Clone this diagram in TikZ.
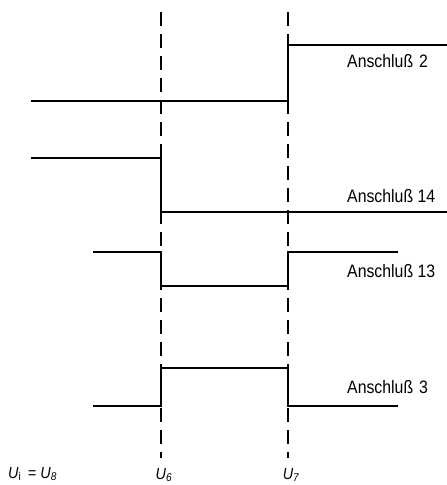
\documentclass[tikz,border=0pt]{standalone}
\usepackage{fontspec}
\setmainfont{Liberation Sans}
\newfontfamily\dinfont[FakeStretch=0.88]{Liberation Sans}
\newfontfamily\dinitalic[FakeStretch=0.9]{Liberation Sans Italic}
\begin{document}
\begin{tikzpicture}[x=1pt,y=-1pt,
  signal/.style={line width=2.6pt,line join=miter},
  guide/.style={line width=2.4pt,dash pattern=on 14pt off 8pt},
  pinlabel/.style={anchor=base west,inner sep=0pt,font=\dinfont\fontsize{18}{20}\selectfont},
  ulabel/.style={anchor=base,inner sep=0pt,font=\dinitalic\fontsize{16}{18}\selectfont}]
\useasboundingbox (0,0) rectangle (447,485);
% guide lines
\draw[guide] (161,12) -- (161,458);
\draw[guide] (288,12) -- (288,458);
% Anschluss 2
\draw[signal] (31,101) -- (288,101) -- (288,45) -- (447,45);
\node[pinlabel] (l2) at (347,67) {Anschluß\,\,2};
% Anschluss 14
\draw[signal] (31,158) -- (161,158) -- (161,212) -- (447,212);
\node[pinlabel] (l14) at (347,202) {Anschluß 14};
% Anschluss 13
\draw[signal] (93,252) -- (161,252) -- (161,286) -- (288,286) -- (288,252) -- (398,252);
\node[pinlabel] (l13) at (347,277) {Anschluß 13};
% Anschluss 3
\draw[signal] (93,406) -- (161,406) -- (161,368) -- (288,368) -- (288,406) -- (398,406);
\node[pinlabel] (l3) at (347,393) {Anschluß\,\,3};
% bottom labels
\node[ulabel,anchor=base west] (ui) at (8,478) {U\textsubscript{\dinfont i}\, = U\textsubscript{8}};
\node[ulabel] (u6) at (164,479) {U\textsubscript{6}};
\node[ulabel] (u7) at (291,479) {U\textsubscript{7}};
\end{tikzpicture}
\end{document}
